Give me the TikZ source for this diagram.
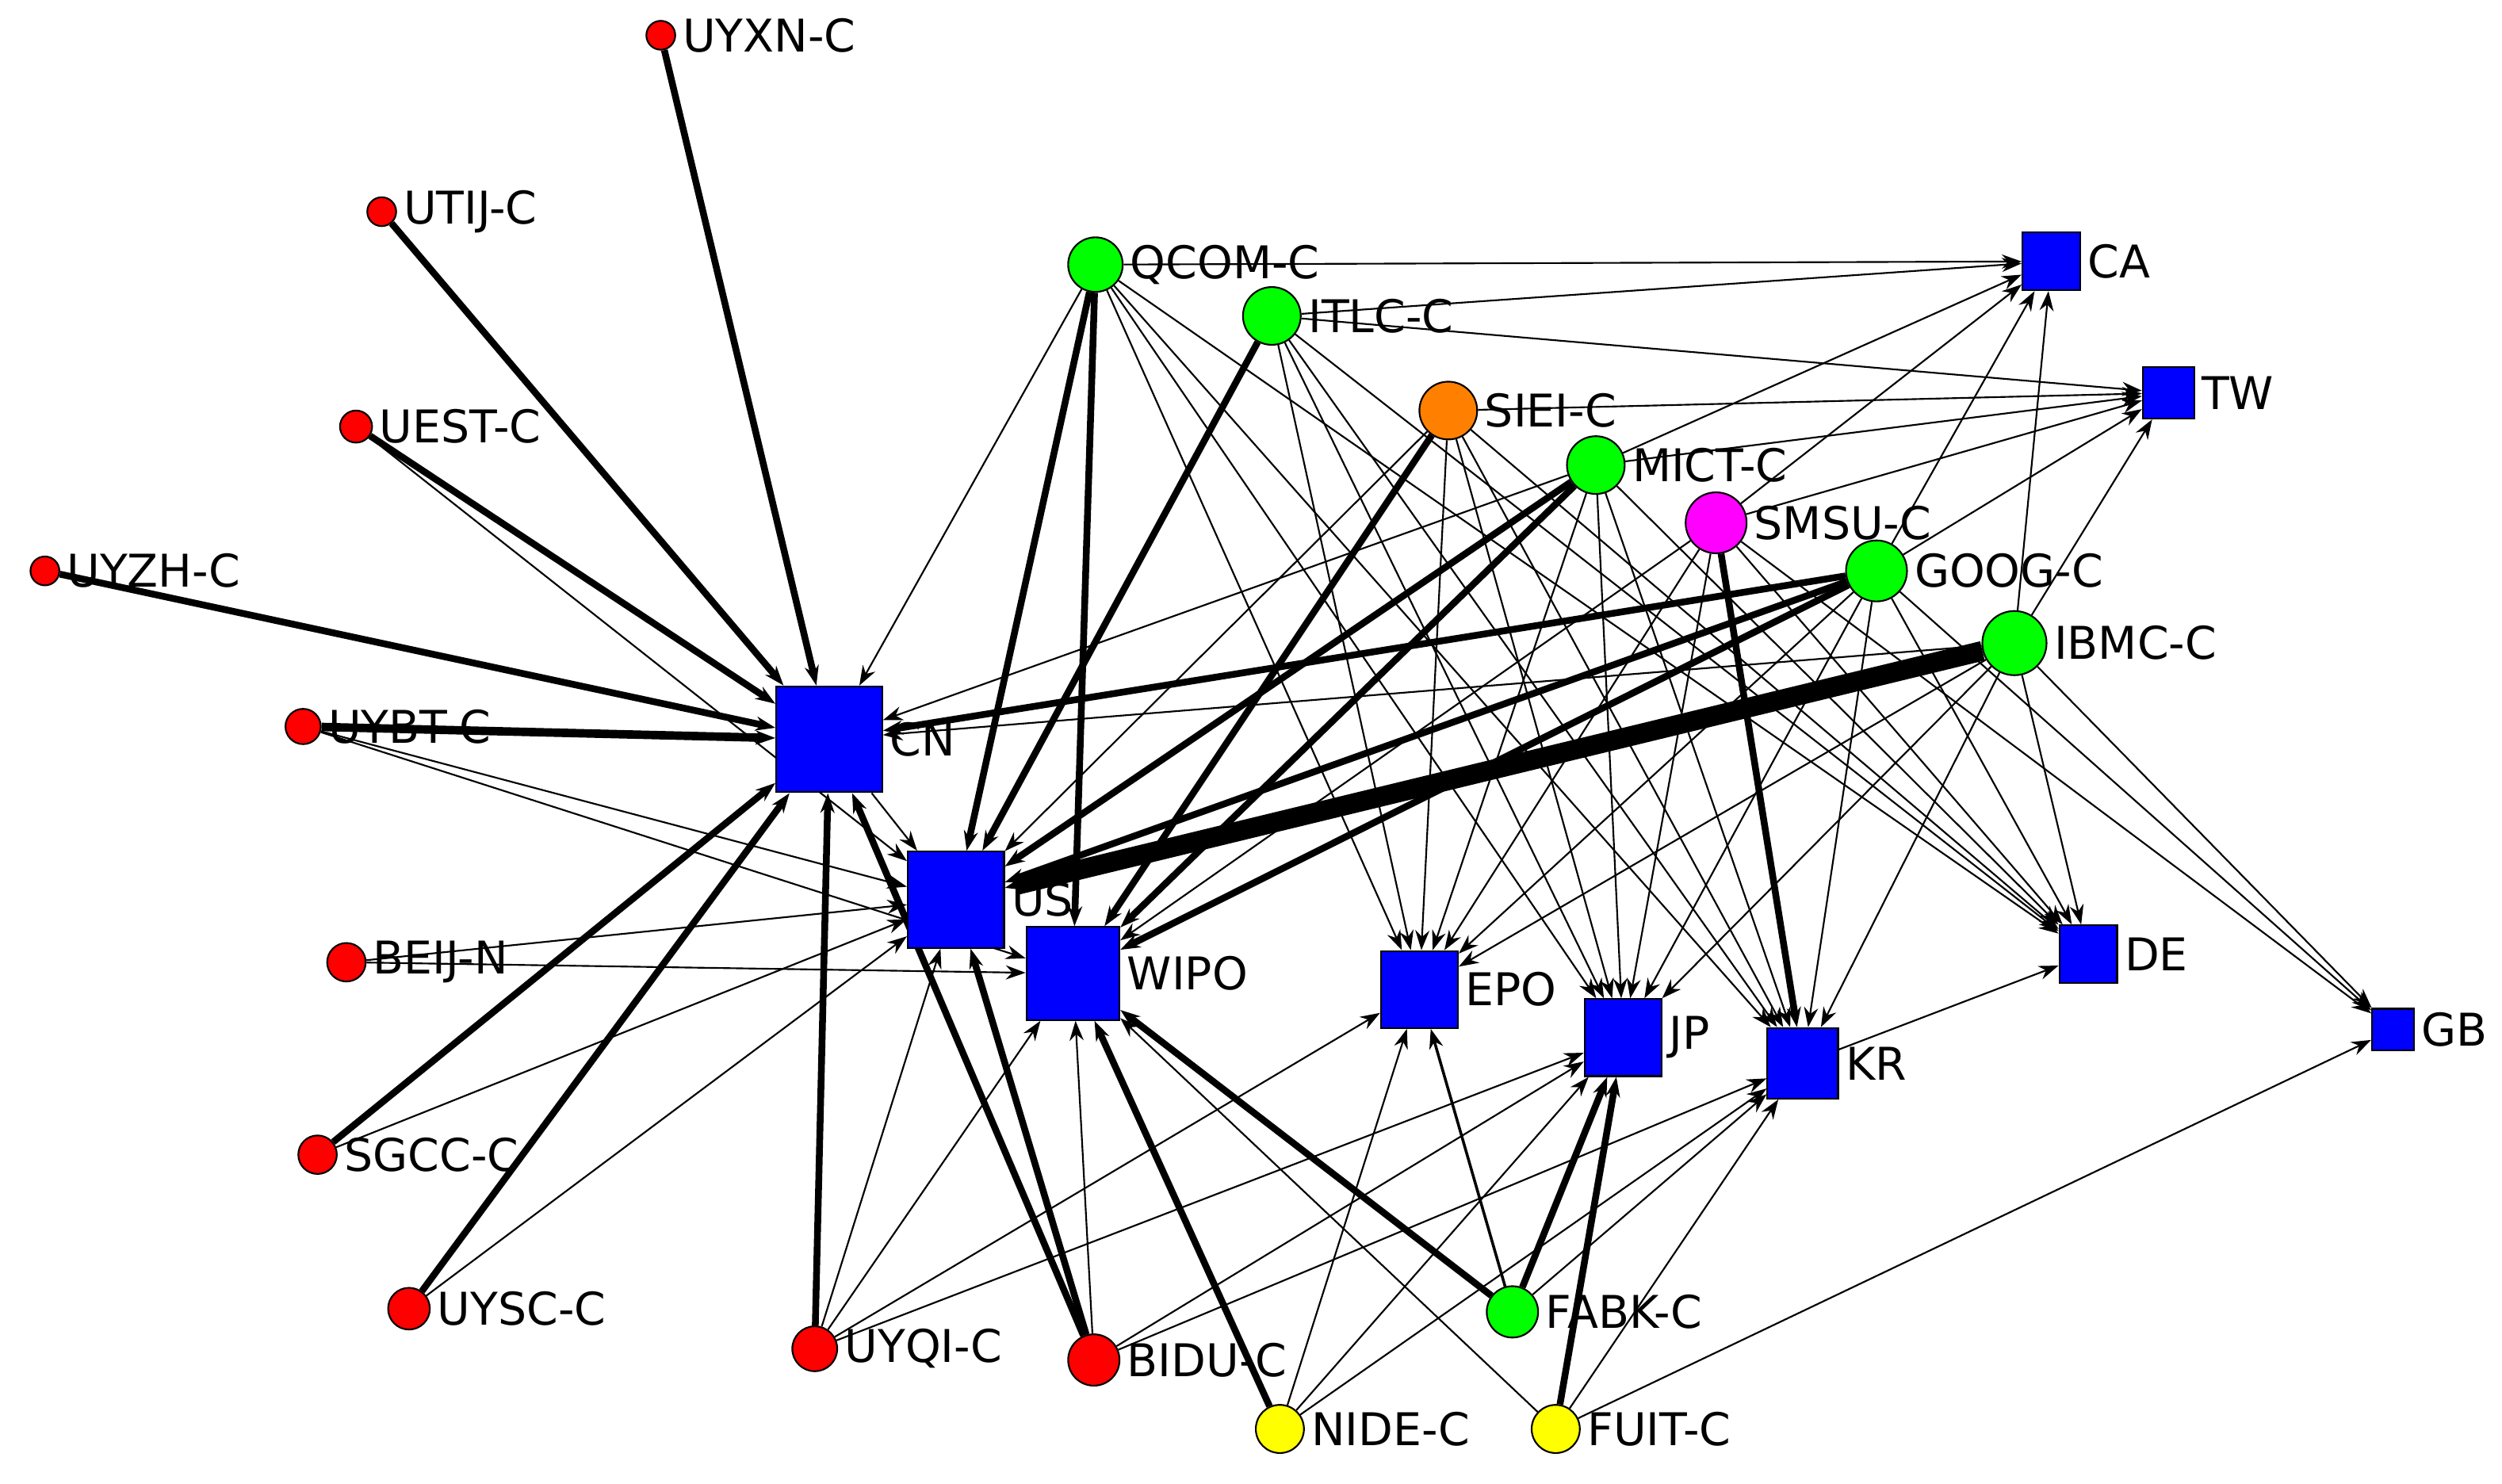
\documentclass[tikz,border=0pt]{standalone}
\usepackage{fontspec}
\setmainfont{DejaVu Sans}
\usetikzlibrary{arrows.meta}
\pgfdeclarelayer{bg}\pgfsetlayers{bg,main}
\begin{document}
\begin{tikzpicture}[x=0.01cm,y=-0.01cm,
 lab/.style={font=\fontsize{8}{9}\selectfont,inner sep=1pt},
 cir/.style={circle,draw=black,line width=0.3pt,inner sep=0pt,minimum size=#1*0.1mm},
 sq/.style={rectangle,draw=black,line width=0.3pt,fill=blue,inner sep=0pt,minimum size=#1*0.1mm},
 e/.style={-{Stealth[length=3.5pt,width=2.5pt]},draw=black}]
\useasboundingbox (0,0) rectangle (1560,925);
\definecolor{rd}{RGB}{255,0,0}\definecolor{gr}{RGB}{0,255,0}
\definecolor{yl}{RGB}{255,255,0}\definecolor{or}{RGB}{255,128,0}\definecolor{mg}{RGB}{255,0,255}
% squares
\node[sq=66,label={[lab]right:CN}] (cn) at (517,461) {};
\node[sq=60,label={[lab]right:US}] (us) at (596,561) {};
\node[sq=58,label={[lab]right:WIPO}] (wipo) at (669,607) {};
\node[sq=48,label={[lab]right:EPO}] (epo) at (885,617) {};
\node[sq=48,label={[lab]right:JP}] (jp) at (1012,647) {};
\node[sq=44,label={[lab]right:KR}] (kr) at (1124,663) {};
\node[sq=36,label={[lab]right:DE}] (de) at (1302,595) {};
\node[sq=36,label={[lab]right:CA}] (ca) at (1279,163) {};
\node[sq=32,label={[lab]right:TW}] (tw) at (1352,245) {};
\node[sq=26,label={[lab]right:GB}] (gb) at (1492,642) {};
% circles
\node[cir=18,fill=rd,label={[lab]right:UYXN-C}] (uyxn) at (412,22) {};
\node[cir=18,fill=rd,label={[lab]right:UTIJ-C}] (utij) at (238,132) {};
\node[cir=20,fill=rd,label={[lab]right:UEST-C}] (uest) at (222,266) {};
\node[cir=18,fill=rd,label={[lab]right:UYZH-C}] (uyzh) at (28,356) {};
\node[cir=22,fill=rd,label={[lab]right:UYBT-C}] (uybt) at (189,453) {};
\node[cir=24,fill=rd,label={[lab]right:BEIJ-N}] (beij) at (216,600) {};
\node[cir=24,fill=rd,label={[lab]right:SGCC-C}] (sgcc) at (198,720) {};
\node[cir=26,fill=rd,label={[lab]right:UYSC-C}] (uysc) at (255,816) {};
\node[cir=28,fill=rd,label={[lab]right:UYQI-C}] (uyqi) at (508,841) {};
\node[cir=32,fill=rd,label={[lab]right:BIDU-C}] (bidu) at (682,848) {};
\node[cir=30,fill=yl,label={[lab]right:NIDE-C}] (nide) at (798,891) {};
\node[cir=30,fill=yl,label={[lab]right:FUIT-C}] (fuit) at (970,891) {};
\node[cir=32,fill=gr,label={[lab]right:FABK-C}] (fabk) at (943,818) {};
\node[cir=34,fill=gr,label={[lab]right:QCOM-C}] (qcom) at (683,165) {};
\node[cir=36,fill=gr,label={[lab]right:ITLC-C}] (itlc) at (793,197) {};
\node[cir=36,fill=or,label={[lab]right:SIEI-C}] (siei) at (903,256) {};
\node[cir=36,fill=gr,label={[lab]right:MICT-C}] (mict) at (995,290) {};
\node[cir=38,fill=mg,label={[lab]right:SMSU-C}] (smsu) at (1070,326) {};
\node[cir=38,fill=gr,label={[lab]right:GOOG-C}] (goog) at (1170,356) {};
\node[cir=40,fill=gr,label={[lab]right:IBMC-C}] (ibmc) at (1256,401) {};
\begin{pgfonlayer}{bg}
\foreach \a/\b/\w in {
 uyxn/cn/1.2, utij/cn/1.2, uest/cn/1.2, uyzh/cn/1.2, uybt/cn/1.5, sgcc/cn/1.2, uysc/cn/1.2,
 uyqi/cn/1.2, bidu/cn/1.2, qcom/cn/0.3, goog/cn/1.2, mict/cn/0.3, ibmc/cn/0.3,
 qcom/us/1.2, itlc/us/1.2, mict/us/1.2, siei/us/0.3, goog/us/1.2, ibmc/us/3.5,
 uybt/us/0.3, beij/us/0.3, sgcc/us/0.3, uysc/us/0.3, uest/us/0.3, uyqi/us/0.3, bidu/us/1.2, cn/us/0.3,
 qcom/wipo/1.2, siei/wipo/1.2, mict/wipo/1.2, smsu/wipo/0.3, goog/wipo/1.2, beij/wipo/0.3,
 bidu/wipo/0.3, fabk/wipo/1.2, fuit/wipo/0.3, nide/wipo/1.2, uyqi/wipo/0.3, uybt/wipo/0.3,
 itlc/epo/0.3, siei/epo/0.3, mict/epo/0.3, smsu/epo/0.3, goog/epo/0.3, ibmc/epo/0.3, qcom/epo/0.3,
 uyqi/epo/0.3, fabk/epo/0.5, nide/epo/0.3,
 qcom/jp/0.3, itlc/jp/0.3, siei/jp/0.3, mict/jp/0.3, smsu/jp/0.3, goog/jp/0.3, ibmc/jp/0.3,
 fabk/jp/1.2, fuit/jp/1.2, nide/jp/0.3, bidu/jp/0.3, uyqi/jp/0.3,
 smsu/kr/1.2, itlc/kr/0.3, siei/kr/0.3, goog/kr/0.3, ibmc/kr/0.3, mict/kr/0.3, qcom/kr/0.3,
 fabk/kr/0.3, nide/kr/0.3, fuit/kr/0.3, bidu/kr/0.3,
 qcom/de/0.3, itlc/de/0.3, siei/de/0.3, smsu/de/0.3, mict/de/0.3, goog/de/0.3, ibmc/de/0.3, kr/de/0.3,
 qcom/ca/0.3, itlc/ca/0.3, mict/ca/0.3, smsu/ca/0.3, goog/ca/0.3, ibmc/ca/0.3,
 itlc/tw/0.3, siei/tw/0.3, mict/tw/0.3, smsu/tw/0.3, goog/tw/0.3, ibmc/tw/0.3,
 goog/gb/0.3, ibmc/gb/0.3, smsu/gb/0.3, fuit/gb/0.3}
 \draw[e,line width=\w pt] (\a) -- (\b);
\end{pgfonlayer}
\end{tikzpicture}
\end{document}
